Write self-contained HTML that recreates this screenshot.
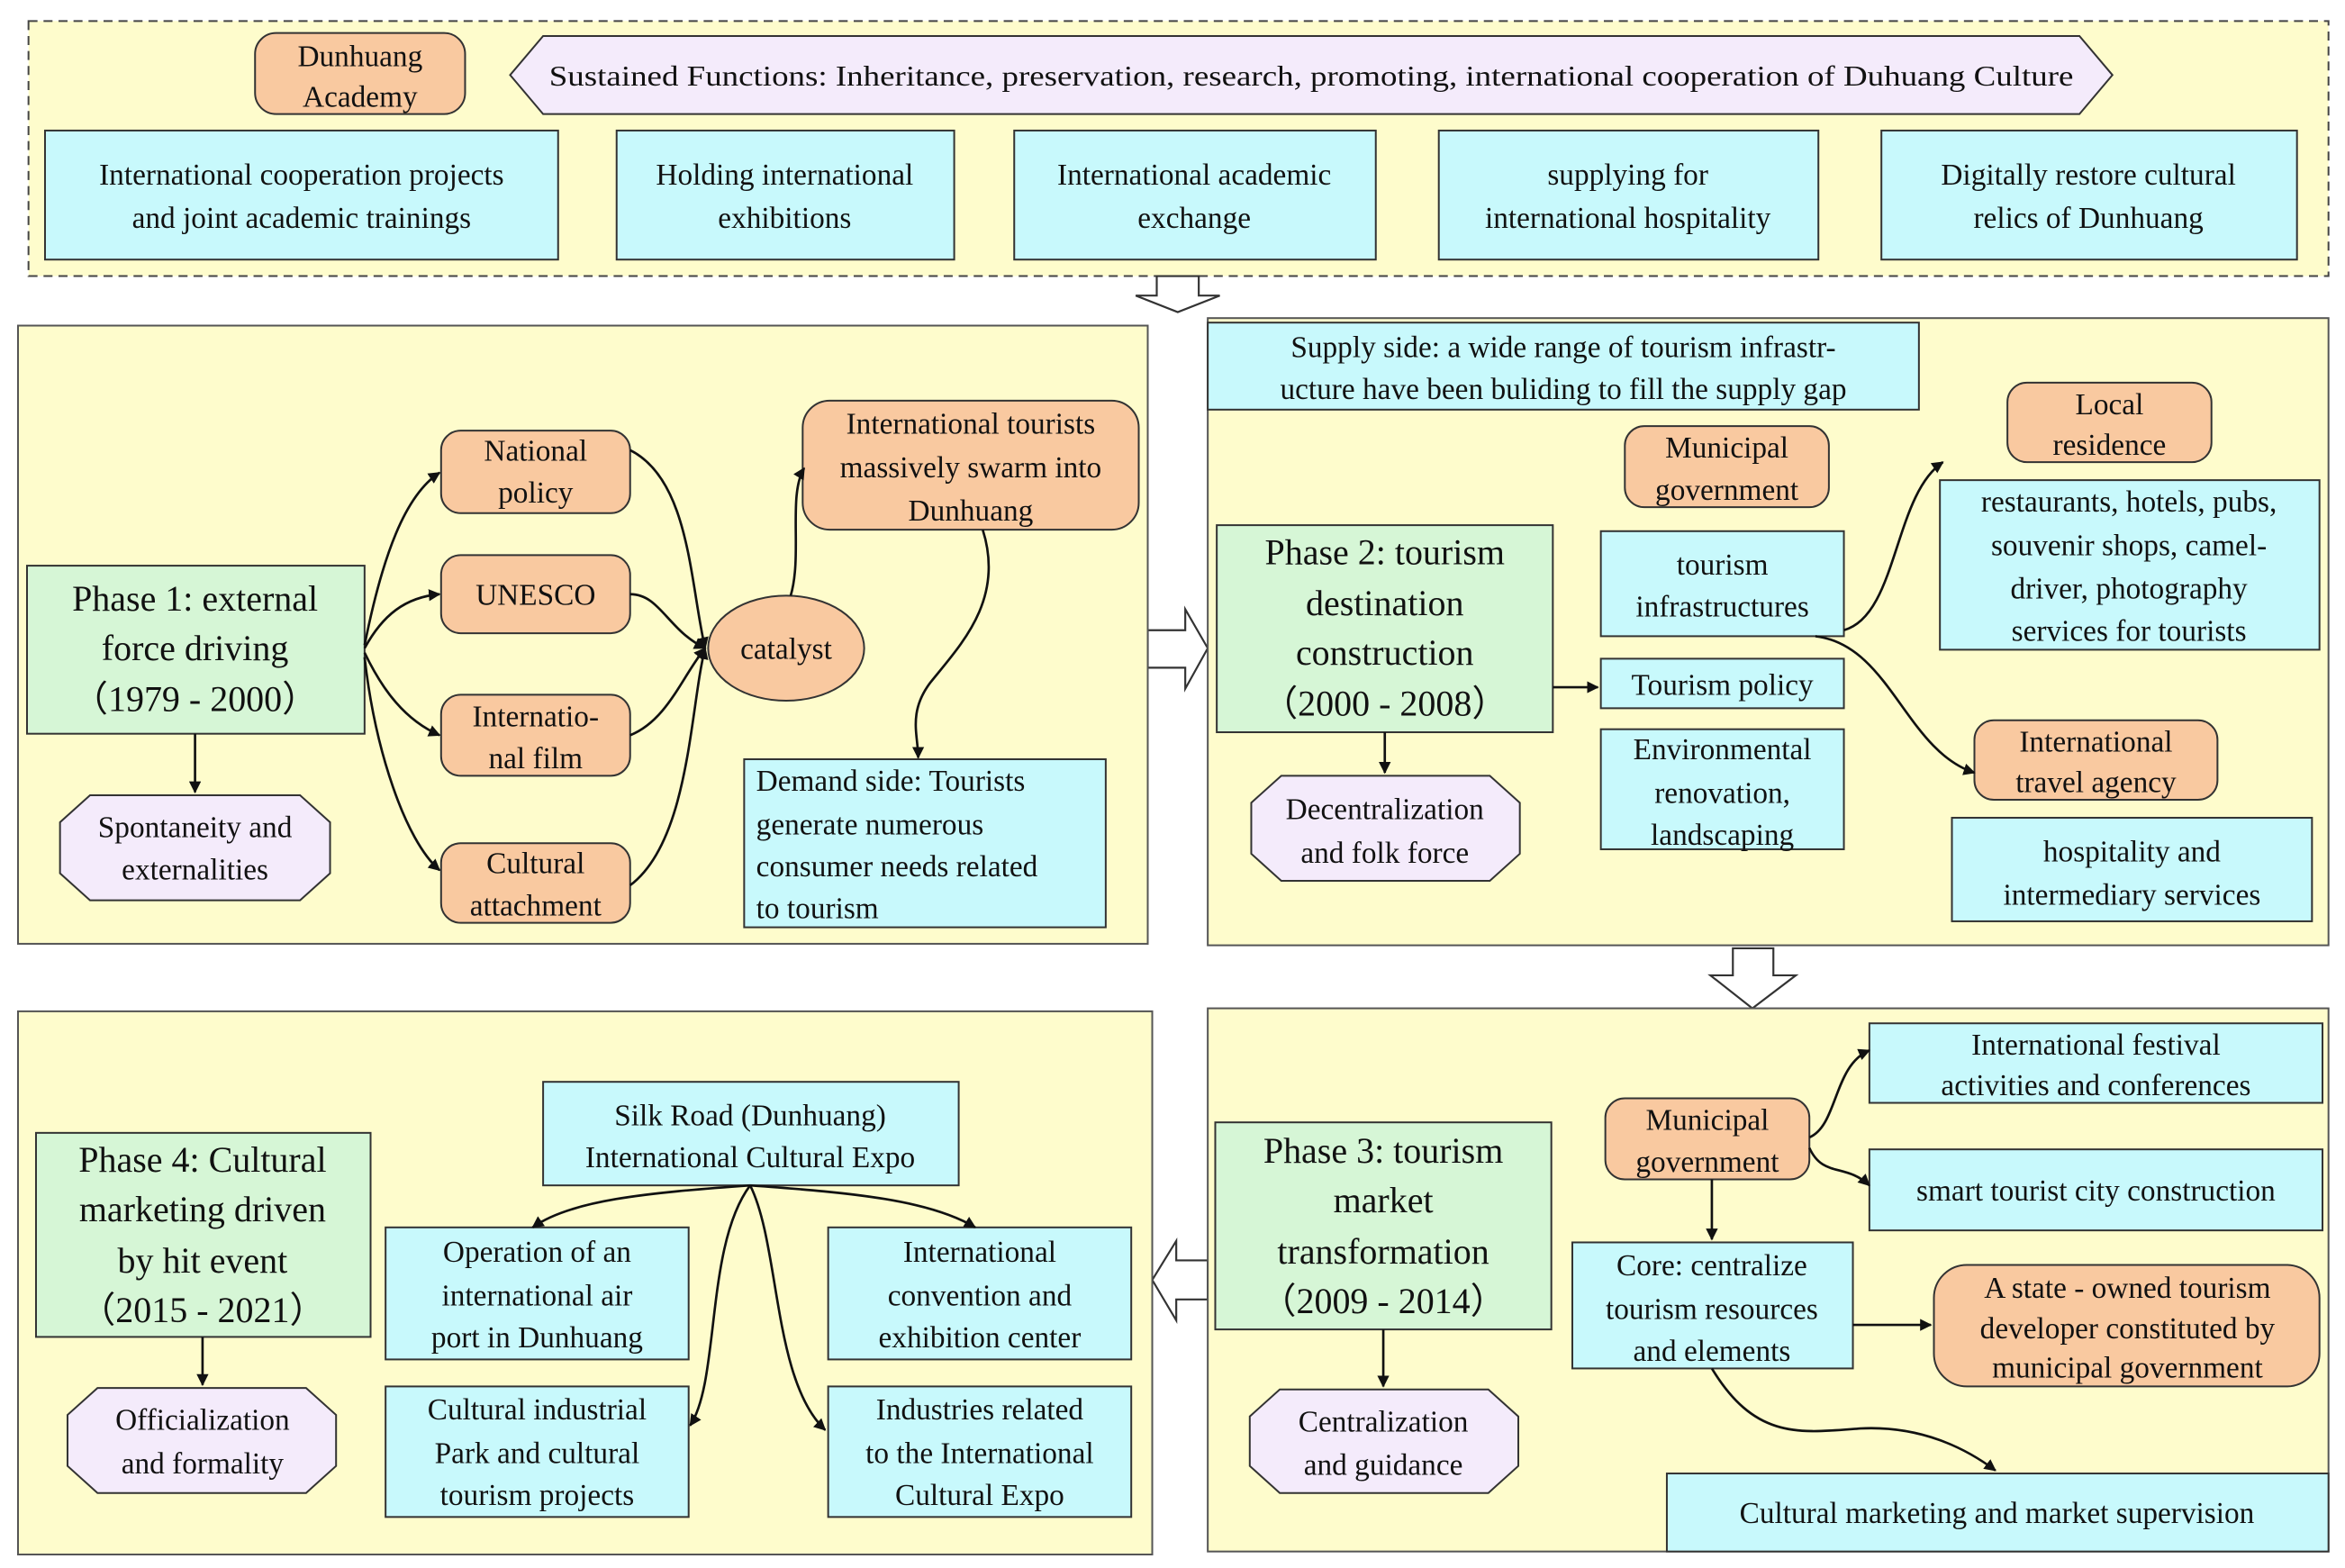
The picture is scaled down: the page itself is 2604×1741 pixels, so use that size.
<!DOCTYPE html>
<html><head><meta charset="utf-8"><style>
html,body{margin:0;padding:0;background:#fff;}
svg{display:block;}
text{font-family:"Liberation Serif","Times New Roman","DejaVu Serif",serif;fill:#111;}
.y{fill:#fefccc;stroke:#555;stroke-width:1.2}
.c{fill:#c8f9fc;stroke:#333;stroke-width:1.2}
.g{fill:#d6f6d6;stroke:#333;stroke-width:1.2}
.o{fill:#f9c9a0;stroke:#333;stroke-width:1.2}
.l{fill:#f4ebfb;stroke:#333;stroke-width:1.2}
.a{fill:none;stroke:#111;stroke-width:1.6;marker-end:url(#m)}
.h{fill:#fff;stroke:#333;stroke-width:1.3}
</style></head><body>
<svg width="2604" height="1741" viewBox="0 0 1563 1045" xmlns="http://www.w3.org/2000/svg">
<defs><marker id="m" viewBox="0 0 10 10" refX="9" refY="5" markerWidth="8" markerHeight="8" orient="auto" markerUnits="userSpaceOnUse"><path d="M0,0L10,5L0,10z" fill="#111"/></marker></defs>
<rect width="1563" height="1045" fill="#fff"/>
<!-- top panel -->
<rect x="19" y="14" width="1533" height="170" fill="#fefccc" stroke="#444" stroke-width="1.2" stroke-dasharray="6,4"/>
<rect class="o" x="170" y="22" width="140" height="54" rx="14"/>
<text x="240" y="44" font-size="20" text-anchor="middle">Dunhuang</text>
<text x="240" y="71" font-size="20" text-anchor="middle">Academy</text>
<polygon class="l" points="340,50 362,24 1386,24 1408,50 1386,76 362,76"/>
<text x="366" y="57" font-size="19" textLength="1016" lengthAdjust="spacingAndGlyphs">Sustained Functions: Inheritance, preservation, research,  promoting, international  cooperation  of Duhuang Culture</text>
<g font-size="20" text-anchor="middle">
<rect class="c" x="30" y="87" width="342" height="86"/><text x="201" y="123">International cooperation projects</text><text x="201" y="152">and joint academic trainings</text>
<rect class="c" x="411" y="87" width="225" height="86"/><text x="523" y="123">Holding international</text><text x="523" y="152">exhibitions</text>
<rect class="c" x="676" y="87" width="241" height="86"/><text x="796" y="123">International academic</text><text x="796" y="152">exchange</text>
<rect class="c" x="959" y="87" width="253" height="86"/><text x="1085" y="123">supplying for</text><text x="1085" y="152">international hospitality</text>
<rect class="c" x="1254" y="87" width="277" height="86"/><text x="1392" y="123">Digitally restore cultural</text><text x="1392" y="152">relics of Dunhuang</text>
</g>
<!-- hollow arrows -->
<polygon class="h" points="771,184 799,184 799,197 813,197 785,208 757,197 771,197"/>
<polygon class="h" points="765,420 790,420 790,406 805,432 790,459 790,445 765,445"/>
<polygon class="h" points="1155,632 1182,632 1182,650 1197,650 1168,672 1140,650 1155,650"/>
<polygon class="h" points="805,840 784,840 784,827 768,853 784,880 784,866 805,866"/>
<!-- panels -->
<rect class="y" x="12" y="217" width="753" height="412"/>
<rect class="y" x="805" y="212" width="747" height="418"/>
<rect class="y" x="805" y="672" width="747" height="362"/>
<rect class="y" x="12" y="674" width="756" height="362"/>
<!-- Panel 1 -->
<rect class="g" x="18" y="377" width="225" height="112"/>
<g font-size="24" text-anchor="middle"><text x="130" y="407">Phase 1: external</text><text x="130" y="440">force driving</text><text x="130" y="474">（1979 - 2000）</text></g>
<polygon class="l" points="60,530 200,530 220,548 220,582 200,600 60,600 40,582 40,548"/>
<g font-size="20" text-anchor="middle"><text x="130" y="558">Spontaneity and</text><text x="130" y="586">externalities</text></g>
<path class="a" d="M130,489 L130,528"/>
<g font-size="20" text-anchor="middle">
<rect class="o" x="294" y="287" width="126" height="55" rx="13"/><text x="357" y="307">National</text><text x="357" y="335">policy</text>
<rect class="o" x="294" y="370" width="126" height="52" rx="13"/><text x="357" y="403">UNESCO</text>
<rect class="o" x="294" y="463" width="126" height="54" rx="13"/><text x="357" y="484">Internatio-</text><text x="357" y="512">nal film</text>
<rect class="o" x="294" y="562" width="126" height="53" rx="13"/><text x="357" y="582">Cultural</text><text x="357" y="610">attachment</text>
<ellipse class="o" cx="524" cy="432" rx="52" ry="35"/><text x="524" y="439">catalyst</text>
<rect class="o" x="535" y="267" width="224" height="86" rx="18"/><text x="647" y="289">International tourists</text><text x="647" y="318">massively swarm into</text><text x="647" y="347">Dunhuang</text>
</g>
<rect class="c" x="496" y="506" width="241" height="112"/>
<g font-size="20"><text x="504" y="527">Demand side: Tourists</text><text x="504" y="556">generate  numerous</text><text x="504" y="584">consumer needs related</text><text x="504" y="612">to tourism</text></g>
<path class="a" d="M243,430 C255,370 270,330 293,315"/>
<path class="a" d="M243,432 C255,410 270,398 293,396"/>
<path class="a" d="M243,435 C255,460 270,480 293,490"/>
<path class="a" d="M243,438 C250,500 270,560 293,580"/>
<path class="a" d="M420,300 C460,320 460,390 470,432"/>
<path class="a" d="M420,396 C440,396 445,420 470,432"/>
<path class="a" d="M420,490 C445,480 455,450 470,432"/>
<path class="a" d="M420,590 C460,560 460,470 470,432"/>
<path class="a" d="M527,397 C535,370 525,330 536,312"/>
<path class="a" d="M655,353 C670,400 640,430 620,455 C605,475 612,490 612,505"/>
<!-- Panel 2 -->
<rect class="c" x="805" y="215" width="474" height="58"/>
<g font-size="20" text-anchor="middle"><text x="1042" y="238">Supply side: a wide range of tourism infrastr-</text><text x="1042" y="266">ucture  have been buliding to fill the supply gap</text></g>
<g font-size="20" text-anchor="middle">
<rect class="o" x="1083" y="284" width="136" height="54" rx="13"/><text x="1151" y="305">Municipal</text><text x="1151" y="333">government</text>
<rect class="o" x="1338" y="255" width="136" height="53" rx="13"/><text x="1406" y="276">Local</text><text x="1406" y="303">residence</text>
<rect class="c" x="1067" y="354" width="162" height="70"/><text x="1148" y="383">tourism</text><text x="1148" y="411">infrastructures</text>
<rect class="c" x="1067" y="439" width="162" height="33"/><text x="1148" y="463">Tourism policy</text>
<rect class="c" x="1067" y="486" width="162" height="80"/><text x="1148" y="506">Environmental</text><text x="1148" y="535">renovation,</text><text x="1148" y="563">landscaping</text>
<rect class="c" x="1293" y="320" width="253" height="113"/><text x="1419" y="341">restaurants, hotels, pubs,</text><text x="1419" y="370">souvenir shops, camel-</text><text x="1419" y="399">driver, photography</text><text x="1419" y="427">services for tourists</text>
<rect class="o" x="1316" y="480" width="162" height="53" rx="13"/><text x="1397" y="501">International</text><text x="1397" y="528">travel agency</text>
<rect class="c" x="1301" y="545" width="240" height="69"/><text x="1421" y="574">hospitality and</text><text x="1421" y="603">intermediary services</text>
</g>
<rect class="g" x="811" y="350" width="224" height="138"/>
<g font-size="24" text-anchor="middle"><text x="923" y="376">Phase 2:  tourism</text><text x="923" y="410">destination</text><text x="923" y="443">construction</text><text x="923" y="477">（2000 - 2008）</text></g>
<polygon class="l" points="854,517 993,517 1013,535 1013,569 993,587 854,587 834,569 834,535"/>
<g font-size="20" text-anchor="middle"><text x="923" y="546">Decentralization</text><text x="923" y="575">and  folk force</text></g>
<path class="a" d="M923,488 L923,515"/>
<path class="a" d="M1035,458 L1065,458"/>
<path class="a" d="M1229,420 C1265,410 1262,330 1295,308"/>
<path class="a" d="M1210,424 C1260,430 1270,500 1316,515"/>
<!-- Panel 3 -->
<g font-size="20" text-anchor="middle">
<rect class="c" x="1246" y="682" width="302" height="53"/><text x="1397" y="703">International festival</text><text x="1397" y="730">activities and conferences</text>
<rect class="c" x="1246" y="766" width="302" height="54"/><text x="1397" y="800">smart tourist city construction</text>
<rect class="o" x="1070" y="732" width="136" height="54" rx="13"/><text x="1138" y="753">Municipal</text><text x="1138" y="781">government</text>
<rect class="c" x="1048" y="828" width="187" height="84"/><text x="1141" y="850">Core: centralize</text><text x="1141" y="879">tourism resources</text><text x="1141" y="907">and elements</text>
<rect class="o" x="1289" y="843" width="257" height="81" rx="22"/><text x="1418" y="865">A state - owned tourism</text><text x="1418" y="892">developer constituted by</text><text x="1418" y="918">municipal government</text>
<rect class="c" x="1111" y="982" width="441" height="52"/><text x="1331" y="1015">Cultural marketing and market supervision</text>
</g>
<rect class="g" x="810" y="748" width="224" height="138"/>
<g font-size="24" text-anchor="middle"><text x="922" y="775">Phase 3:  tourism</text><text x="922" y="808">market</text><text x="922" y="842">transformation</text><text x="922" y="875">（2009 - 2014）</text></g>
<polygon class="l" points="853,926 992,926 1012,944 1012,977 992,995 853,995 833,977 833,944"/>
<g font-size="20" text-anchor="middle"><text x="922" y="954">Centralization</text><text x="922" y="983">and  guidance</text></g>
<path class="a" d="M922,886 L922,924"/>
<path class="a" d="M1141,786 L1141,826"/>
<path class="a" d="M1235,883 L1287,883"/>
<path class="a" d="M1206,758 C1225,750 1222,710 1246,700"/>
<path class="a" d="M1206,765 C1215,785 1230,775 1246,790"/>
<path class="a" d="M1141,912 C1170,960 1200,955 1240,952 C1280,950 1310,965 1330,980"/>
<!-- Panel 4 -->
<rect class="g" x="24" y="755" width="223" height="136"/>
<g font-size="24" text-anchor="middle"><text x="135" y="781">Phase 4:  Cultural</text><text x="135" y="814">marketing driven</text><text x="135" y="848">by hit event</text><text x="135" y="881">（2015 - 2021）</text></g>
<polygon class="l" points="65,925 204,925 224,943 224,977 204,995 65,995 45,977 45,943"/>
<g font-size="20" text-anchor="middle"><text x="135" y="953">Officialization</text><text x="135" y="982">and formality</text></g>
<path class="a" d="M135,891 L135,923"/>
<g font-size="20" text-anchor="middle">
<rect class="c" x="362" y="721" width="277" height="69"/><text x="500" y="750">Silk Road (Dunhuang)</text><text x="500" y="778">International Cultural Expo</text>
<rect class="c" x="257" y="818" width="202" height="88"/><text x="358" y="841">Operation of an</text><text x="358" y="870">international air</text><text x="358" y="898">port in Dunhuang</text>
<rect class="c" x="552" y="818" width="202" height="88"/><text x="653" y="841">International</text><text x="653" y="870">convention and</text><text x="653" y="898">exhibition center</text>
<rect class="c" x="257" y="924" width="202" height="87"/><text x="358" y="946">Cultural industrial</text><text x="358" y="975">Park and cultural</text><text x="358" y="1003">tourism projects</text>
<rect class="c" x="552" y="924" width="202" height="87"/><text x="653" y="946">Industries related</text><text x="653" y="975">to the International</text><text x="653" y="1003">Cultural Expo</text>
</g>
<path class="a" d="M500,790 C430,795 380,800 355,818"/>
<path class="a" d="M500,790 C570,795 620,800 650,818"/>
<path class="a" d="M500,790 C470,830 480,920 460,950"/>
<path class="a" d="M500,790 C520,830 515,920 550,953"/>
</svg>
</body></html>
